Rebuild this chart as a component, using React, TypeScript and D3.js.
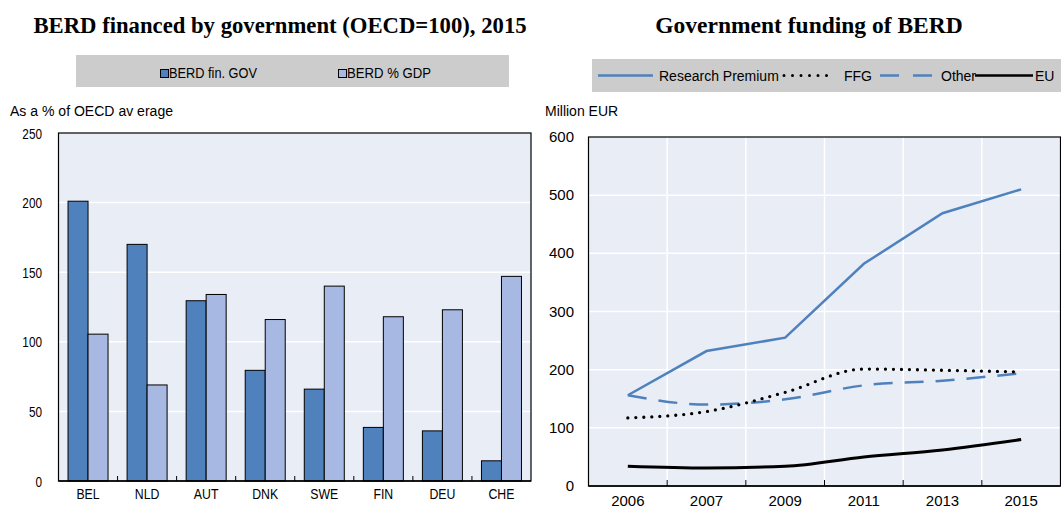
import React from "react";
import * as d3 from "d3";

const countries = ["BEL", "NLD", "AUT", "DNK", "SWE", "FIN", "DEU", "CHE"];
const berdFinGov = [201, 170, 129.5, 79.5, 66, 38.5, 36, 14.5];
const berdGdp = [105.5, 69, 134, 116, 140, 118, 123, 147];
const leftTicks = [0, 50, 100, 150, 200, 250];

const years = ["2006", "2007", "2009", "2011", "2013", "2015"];
const researchPremium = [156, 232, 255, 382, 469, 510];
const ffg = [117, 128, 161, 201, 199, 196];
const other = [156, 140, 149, 173, 181, 194];
const eu = [34, 31, 34, 50, 62, 80];
const rightTicks = [0, 100, 200, 300, 400, 500, 600];

const BG = "#E9EDF6";
const DARK = "#4F81BD";
const LIGHT = "#A7B9E3";
const SANS = "'Liberation Sans', Arial, sans-serif";
const SERIF = "'Liberation Serif', 'Times New Roman', serif";

function NText({ x, y, sx, size, anchor, children }: { x: number; y: number; sx: number; size: number; anchor?: string; children: React.ReactNode }) {
  return (
    <text transform={`translate(${x},${y}) scale(${sx},1)`} textAnchor={anchor || "start"} fontFamily={SANS} fontSize={size}>
      {children}
    </text>
  );
}

function LeftChart() {
  const x0 = 58.5, x1 = 531, y0 = 481, y1 = 133;
  const x = d3.scaleBand<string>().domain(countries).range([x0, x1]);
  const y = d3.scaleLinear().domain([0, 250]).range([y0, y1]);
  const inner = d3.scaleBand<string>().domain(["gov", "gdp"]).range([0, 40]);
  const off = (x.bandwidth() - 40) / 2;
  return (
    <g>
      <text x={280} y={33} textAnchor="middle" fontFamily={SERIF} fontWeight="bold" fontSize={22.7}>
        BERD financed by government (OECD=100), 2015
      </text>
      <rect x={76} y={55} width={433} height={32} fill="#CCCCCC" />
      <rect x={160.5} y={69.5} width={8} height={8} fill={DARK} stroke="#000" strokeWidth={1} />
      <text x={169} y={78} fontFamily={SANS} fontSize={14} textLength={88} lengthAdjust="spacingAndGlyphs">BERD fin. GOV</text>
      <rect x={338.5} y={69.5} width={8} height={8} fill={LIGHT} stroke="#000" strokeWidth={1} />
      <text x={347} y={78} fontFamily={SANS} fontSize={14} textLength={84} lengthAdjust="spacingAndGlyphs">BERD % GDP</text>
      <text x={10} y={116} fontFamily={SANS} fontSize={15.5} textLength={163} lengthAdjust="spacingAndGlyphs">As a % of OECD av erage</text>
      <rect x={x0} y={y1} width={x1 - x0} height={y0 - y1} fill={BG} />
      {leftTicks.filter(t => t > 0 && t < 250).map(t => (
        <line key={t} x1={x0} x2={x1} y1={y(t)} y2={y(t)} stroke="#fff" strokeWidth={1.5} />
      ))}
      {countries.map((c, i) => (
        <g key={c}>
          <rect x={(x(c) as number) + off + (inner("gov") as number)} y={y(berdFinGov[i])}
            width={inner.bandwidth()} height={y0 - y(berdFinGov[i])} fill={DARK} stroke="#000" strokeWidth={1} />
          <rect x={(x(c) as number) + off + (inner("gdp") as number)} y={y(berdGdp[i])}
            width={inner.bandwidth()} height={y0 - y(berdGdp[i])} fill={LIGHT} stroke="#000" strokeWidth={1} />
          <NText x={(x(c) as number) + x.bandwidth() / 2} y={499} sx={0.82} size={15} anchor="middle">{c}</NText>
        </g>
      ))}
      {countries.slice(1).map(c => (
        <line key={c} x1={x(c)} x2={x(c)} y1={y0} y2={y0 - 5} stroke="#000" strokeWidth={1} />
      ))}
      <rect x={x0} y={y1} width={x1 - x0} height={y0 - y1} fill="none" stroke="#000" strokeWidth={1.2} />
      <line x1={x0} x2={x1} y1={y0} y2={y0} stroke="#000" strokeWidth={1.5} />
      {leftTicks.map(t => (
        <NText key={t} x={42} y={y(t) + 5.5} sx={0.76} size={15.5} anchor="end">{t}</NText>
      ))}
    </g>
  );
}

function RightChart() {
  const x0 = 588.5, x1 = 1060.5, y0 = 486, y1 = 137;
  const x = d3.scaleBand<string>().domain(years).range([x0, x1]);
  const y = d3.scaleLinear().domain([0, 600]).range([y0, y1]);
  const cx = (yr: string) => (x(yr) as number) + x.bandwidth() / 2;
  const straight = d3.line<number>().x((_, i) => cx(years[i])).y(v => y(v));
  const smooth = d3.line<number>().x((_, i) => cx(years[i])).y(v => y(v)).curve(d3.curveMonotoneX);
  return (
    <g>
      <text x={809} y={33} textAnchor="middle" fontFamily={SERIF} fontWeight="bold" fontSize={23.5}>
        Government funding of BERD
      </text>
      <rect x={592} y={59} width={480} height={33} fill="#CCCCCC" />
      <line x1={598} x2={653} y1={75.5} y2={75.5} stroke={DARK} strokeWidth={2.5} />
      <text x={659} y={81} fontFamily={SANS} fontSize={14}>Research Premium</text>
      <line x1={784} x2={834} y1={75.5} y2={75.5} stroke="#000" strokeWidth={3} strokeDasharray="0 8.5" strokeLinecap="round" />
      <text x={844} y={81} fontFamily={SANS} fontSize={14}>FFG</text>
      <line x1={880} x2={937} y1={75.5} y2={75.5} stroke={DARK} strokeWidth={2.5} strokeDasharray="19 14" />
      <text x={941} y={81} fontFamily={SANS} fontSize={14}>Other</text>
      <line x1={975} x2={1033} y1={75.5} y2={75.5} stroke="#000" strokeWidth={2.5} />
      <text x={1035} y={81} fontFamily={SANS} fontSize={14}>EU</text>
      <text x={545} y={116} fontFamily={SANS} fontSize={14}>Million EUR</text>
      <rect x={x0} y={y1} width={x1 - x0} height={y0 - y1} fill={BG} />
      {rightTicks.filter(t => t > 0 && t < 600).map(t => (
        <line key={t} x1={x0} x2={x1} y1={y(t)} y2={y(t)} stroke="#fff" strokeWidth={1.5} />
      ))}
      {years.slice(1).map(yr => (
        <line key={yr} x1={x(yr)} x2={x(yr)} y1={y0} y2={y1} stroke="#fff" strokeWidth={1.5} />
      ))}
      <path d={smooth(eu) || ""} fill="none" stroke="#000" strokeWidth={3} />
      <path d={smooth(other) || ""} fill="none" stroke={DARK} strokeWidth={2.5} strokeDasharray="19 12" />
      <path d={smooth(ffg) || ""} fill="none" stroke="#000" strokeWidth={3.3} strokeDasharray="0 8" strokeLinecap="round" />
      <path d={straight(researchPremium) || ""} fill="none" stroke={DARK} strokeWidth={2.5} />
      {years.slice(1).map(yr => (
        <line key={yr} x1={x(yr)} x2={x(yr)} y1={y0} y2={y0 - 6} stroke="#000" strokeWidth={1} />
      ))}
      <rect x={x0} y={y1} width={x1 - x0} height={y0 - y1} fill="none" stroke="#000" strokeWidth={1.2} />
      <line x1={x0} x2={x1} y1={y0} y2={y0} stroke="#000" strokeWidth={1.5} />
      {rightTicks.map(t => (
        <text key={t} x={574} y={y(t) + 5} textAnchor="end" fontFamily={SANS} fontSize={15}>{t}</text>
      ))}
      {years.map(yr => (
        <text key={yr} x={cx(yr)} y={506} textAnchor="middle" fontFamily={SANS} fontSize={15}>{yr}</text>
      ))}
    </g>
  );
}

export default function App() {
  return (
    <svg width={1061} height={508} style={{ position: "absolute", left: 0, top: 0, background: "#fff" }}>
      <rect width={1061} height={508} fill="#fff" />
      <LeftChart />
      <RightChart />
    </svg>
  );
}
